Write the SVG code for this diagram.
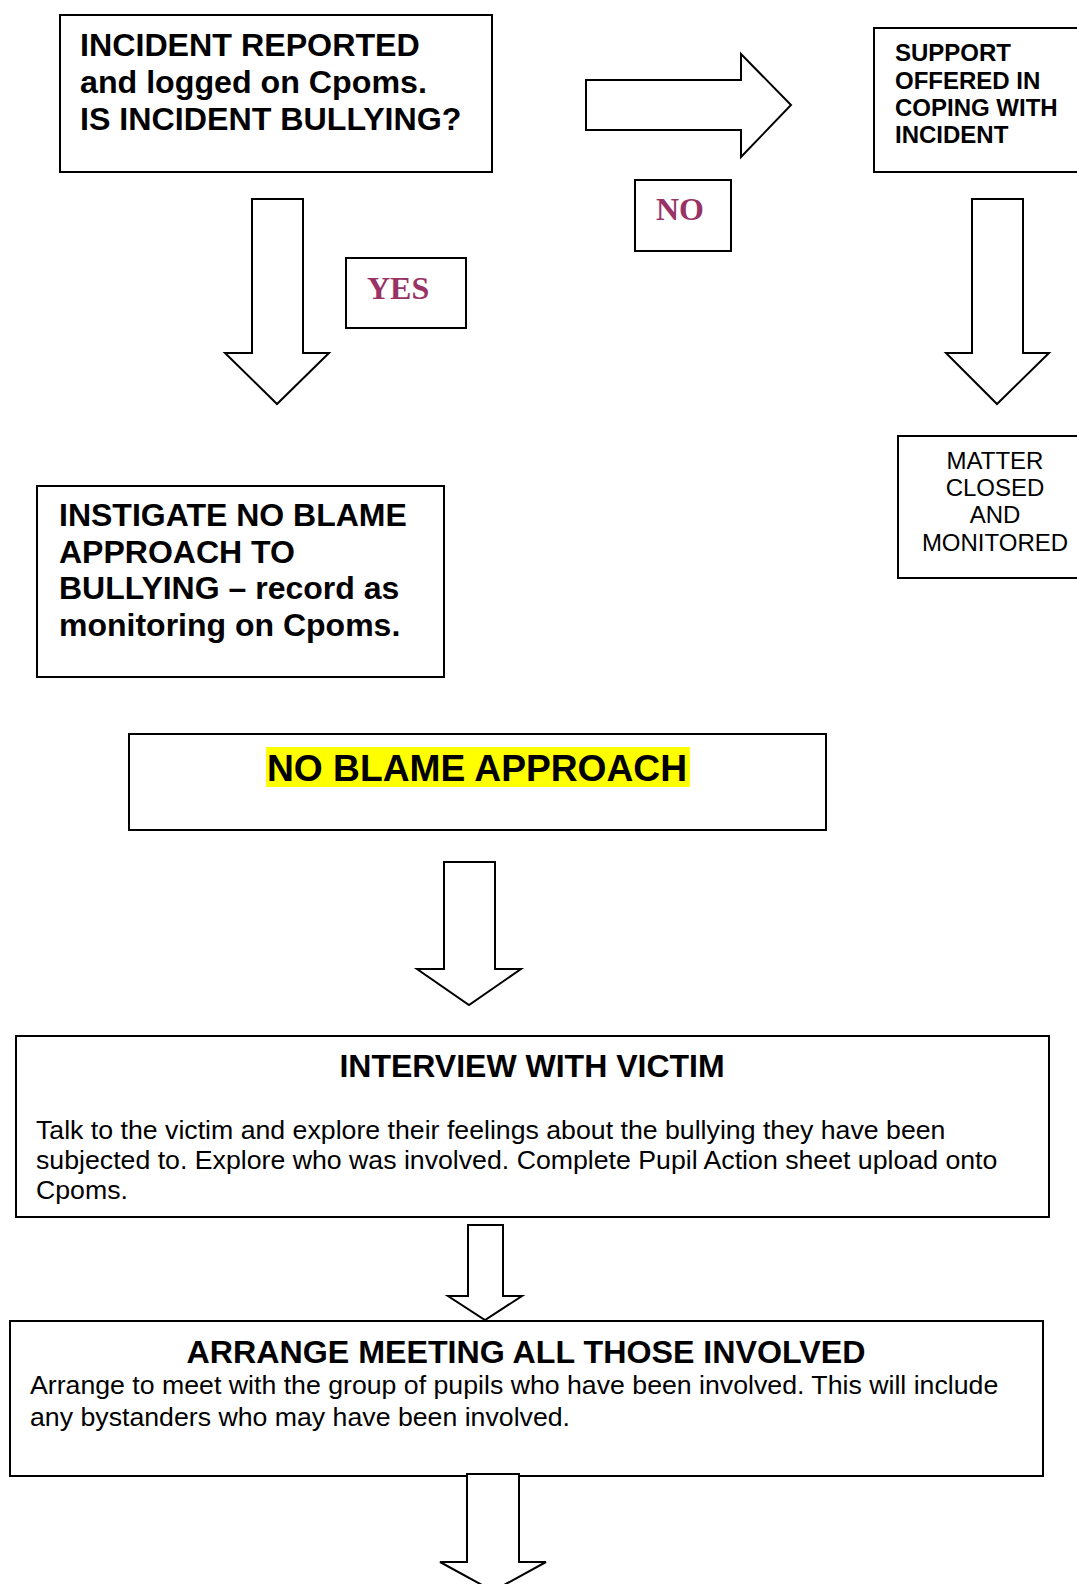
<svg xmlns="http://www.w3.org/2000/svg" width="1077" height="1584" viewBox="0 0 1077 1584">
<style>
.box{fill:#fff;stroke:#000;stroke-width:2}
.arr{fill:#fff;stroke:#000;stroke-width:2;stroke-linejoin:miter}
.b{font-family:"Liberation Sans",Arial,sans-serif;font-weight:bold;fill:#000}
.r{font-family:"Liberation Sans",Arial,sans-serif;fill:#000}
.lbl{font-family:"Liberation Serif","Times New Roman",serif;font-weight:bold;font-size:32px;fill:#993366}
</style>
<rect width="1077" height="1584" fill="#fff"/>
<g id="n-incident">
<rect class="box" x="60" y="15" width="432" height="157"/>
<text class="b" font-size="32.2" x="80" y="56">INCIDENT REPORTED</text>
<text class="b" font-size="32.2" x="80" y="93">and logged on Cpoms.</text>
<text class="b" font-size="32.2" x="80" y="130">IS INCIDENT BULLYING?</text>
</g>
<g id="n-support">
<rect class="box" x="874" y="28" width="210" height="144"/>
<text class="b" font-size="24" x="895" y="61">SUPPORT</text>
<text class="b" font-size="24" x="895" y="89">OFFERED IN</text>
<text class="b" font-size="24" x="895" y="116">COPING WITH</text>
<text class="b" font-size="24" x="895" y="143">INCIDENT</text>
</g>
<g id="n-no">
<rect class="box" x="635" y="180" width="96" height="71"/>
<text class="lbl" x="656" y="220">NO</text>
</g>
<g id="n-yes">
<rect class="box" x="346" y="258" width="120" height="70"/>
<text class="lbl" x="367" y="299">YES</text>
</g>
<g id="n-matter">
<rect class="box" x="898" y="436" width="186" height="142"/>
<text class="r" font-size="24" text-anchor="middle" x="995" y="469">MATTER</text>
<text class="r" font-size="24" text-anchor="middle" x="995" y="496">CLOSED</text>
<text class="r" font-size="24" text-anchor="middle" x="995" y="523">AND</text>
<text class="r" font-size="24" text-anchor="middle" x="995" y="551">MONITORED</text>
</g>
<g id="n-instigate">
<rect class="box" x="37" y="486" width="407" height="191"/>
<text class="b" font-size="32" x="59" y="526">INSTIGATE NO BLAME</text>
<text class="b" font-size="32" x="59" y="563">APPROACH TO</text>
<text class="b" font-size="32" x="59" y="599">BULLYING – record as</text>
<text class="b" font-size="32" x="59" y="636">monitoring on Cpoms.</text>
</g>
<g id="n-noblame">
<rect class="box" x="129" y="734" width="697" height="96"/>
<rect x="266" y="747" width="424" height="40" fill="#ffff00"/>
<text class="b" font-size="37.2" x="267" y="781">NO BLAME APPROACH</text>
</g>
<g id="n-interview">
<rect class="box" x="16" y="1036" width="1033" height="181"/>
<text class="b" font-size="32" text-anchor="middle" x="532" y="1077">INTERVIEW WITH VICTIM</text>
<text class="r" font-size="26.7" x="36" y="1139">Talk to the victim and explore their feelings about the bullying they have been</text>
<text class="r" font-size="26.7" x="36" y="1169">subjected to. Explore who was involved. Complete Pupil Action sheet upload onto</text>
<text class="r" font-size="26.7" x="36" y="1199">Cpoms.</text>
</g>
<g id="n-arrange">
<rect class="box" x="10" y="1321" width="1033" height="155"/>
<text class="b" font-size="32.2" text-anchor="middle" x="526" y="1363">ARRANGE MEETING ALL THOSE INVOLVED</text>
<text class="r" font-size="26.7" x="30" y="1394">Arrange to meet with the group of pupils who have been involved. This will include</text>
<text class="r" font-size="26.7" x="30" y="1426">any bystanders who may have been involved.</text>
</g>
<g id="connectors">
<polygon class="arr" points="586,80 741,80 741,54 791,105 741,157 741,130 586,130"/>
<polygon class="arr" points="252,199 303,199 303,353 329,353 277,404 225,353 252,353"/>
<polygon class="arr" points="972,199 1023,199 1023,353 1049,353 997,404 946,353 972,353"/>
<polygon class="arr" points="444,862 495,862 495,969 521,969 469,1005 417,969 444,969"/>
<polygon class="arr" points="468,1225 503,1225 503,1296 522,1296 485,1320 448,1296 468,1296"/>
<polygon class="arr" points="467,1474 519,1474 519,1562 546,1562 493,1591 440,1562 467,1562"/>
</g>
</svg>
